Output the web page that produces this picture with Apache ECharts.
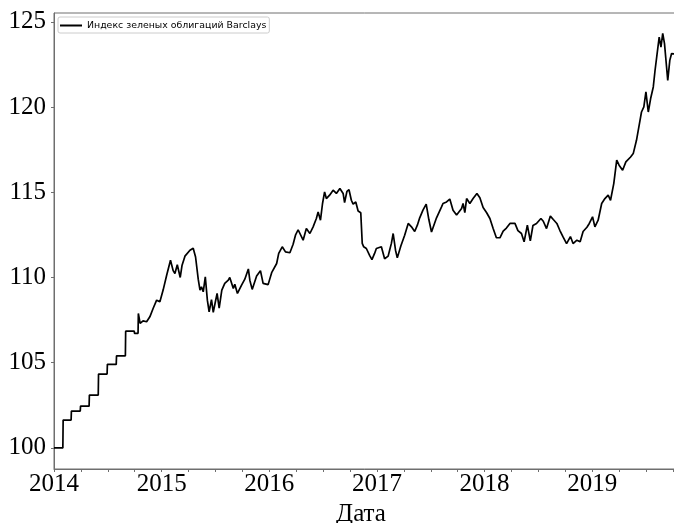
<!DOCTYPE html>
<html>
<head>
<meta charset="utf-8">
<title>Индекс зеленых облигаций Barclays</title>
<script src="https://cdn.jsdelivr.net/npm/echarts@6/dist/echarts.min.js"></script>
<style>
  html, body { margin: 0; padding: 0; background: #fff; overflow: hidden; }
  #chart { width: 674px; height: 523px; }
</style>
</head>
<body>
<div id="chart"></div>
<script>
// Barclays green bond index, [date, value]
const steps2014 = [
  ['2014-01-01',100.00],['2014-01-31',100.00],['2014-02-01',101.63],['2014-02-28',101.63],
  ['2014-03-01',102.16],['2014-03-31',102.16],['2014-04-01',102.45],['2014-04-30',102.45],
  ['2014-05-01',103.10],['2014-05-31',103.10],['2014-06-01',104.33],['2014-06-30',104.33],
  ['2014-07-01',104.90],['2014-07-31',104.90],['2014-08-01',105.40],['2014-08-31',105.40],
  ['2014-09-01',106.85],['2014-09-30',106.85],['2014-10-01',106.72],['2014-10-13',106.72],
  ['2014-10-14',107.89]
];
const daily2014 = [
  ['2014-10-20',107.30],['2014-10-30',107.45],['2014-11-11',107.40],['2014-11-22',107.69],
  ['2014-12-03',108.18],['2014-12-09',108.08],['2014-12-15',108.67],['2014-12-26',108.57]
];
const daily2015 = [
  ['2015-01-06',109.26],['2015-01-18',110.13],['2015-01-31',111.01],['2015-02-09',110.40],
  ['2015-02-15',110.23],['2015-02-23',110.75],['2015-03-05',110.00],['2015-03-11',110.70],
  ['2015-03-21',111.25],['2015-04-07',111.60],['2015-04-18',111.72],['2015-04-26',111.20],
  ['2015-05-05',109.90],['2015-05-11',109.26],['2015-05-16',109.45],['2015-05-22',109.16],
  ['2015-05-29',110.04],['2015-06-05',108.67],['2015-06-11',107.98],['2015-06-19',108.70],
  ['2015-06-25',107.95],['2015-07-01',108.47],['2015-07-08',109.06],['2015-07-15',108.20],
  ['2015-07-24',109.26],['2015-08-03',109.65],['2015-08-15',109.84],['2015-08-20',110.00],
  ['2015-09-01',109.35],['2015-09-06',109.60],['2015-09-15',109.06],['2015-09-29',109.55],
  ['2015-10-10',109.90],['2015-10-22',110.50],['2015-10-27',109.84],['2015-11-04',109.30],
  ['2015-11-19',110.08],['2015-12-02',110.40],['2015-12-11',109.65],['2015-12-28',109.58]
];
const daily2016 = [
  ['2016-01-09',110.28],['2016-01-26',110.82],['2016-02-02',111.41],['2016-02-14',111.80],
  ['2016-02-25',111.50],['2016-03-11',111.45],['2016-03-22',111.95],['2016-03-30',112.48],
  ['2016-04-08',112.80],['2016-04-14',112.77],['2016-04-25',112.19],['2016-05-06',112.87],
  ['2016-05-18',112.58],['2016-05-29',112.97],['2016-06-09',113.46],['2016-06-15',113.85],
  ['2016-06-23',113.36],['2016-06-30',114.34],['2016-07-07',115.02],['2016-07-13',114.63],
  ['2016-07-24',114.83],['2016-08-05',115.12],['2016-08-16',114.93],['2016-08-28',115.22],
  ['2016-09-08',114.93],['2016-09-13',114.40],['2016-09-21',115.05],['2016-09-28',115.15],
  ['2016-10-06',114.53],['2016-10-12',114.30],['2016-10-21',114.43],['2016-10-29',113.90],
  ['2016-11-07',113.80],['2016-11-12',112.00],['2016-11-17',111.80],['2016-11-26',111.70],
  ['2016-12-07',111.30],['2016-12-15',111.05],['2016-12-24',111.41],['2016-12-30',111.70]
];
const daily2017 = [
  ['2017-01-05',111.80],['2017-01-16',111.80],['2017-01-27',111.10],['2017-02-08',111.25],
  ['2017-02-13',111.60],['2017-02-19',112.00],['2017-02-25',112.58],['2017-03-05',111.60],
  ['2017-03-11',111.15],['2017-03-23',111.85],['2017-04-05',112.48],['2017-04-17',113.17],
  ['2017-04-28',112.97],['2017-05-09',112.70],['2017-05-18',113.07],['2017-05-26',113.50],
  ['2017-06-06',113.95],['2017-06-17',114.30],['2017-06-26',113.40],['2017-07-05',112.67],
  ['2017-07-22',113.50],['2017-08-08',114.14],['2017-08-13',114.34],['2017-08-25',114.43],
  ['2017-09-05',114.60],['2017-09-16',113.95],['2017-09-28',113.66],['2017-10-03',113.75],
  ['2017-10-15',114.05],['2017-10-20',114.34],['2017-10-26',113.80],['2017-11-01',114.63],
  ['2017-11-12',114.34],['2017-11-23',114.63],['2017-12-06',114.93],['2017-12-16',114.68],
  ['2017-12-27',114.10]
];
const daily2018 = [
  ['2018-01-08',113.80],['2018-01-19',113.46],['2018-01-30',112.87],['2018-02-10',112.33],
  ['2018-02-22',112.33],['2018-03-05',112.72],['2018-03-16',112.90],['2018-03-28',113.17],
  ['2018-04-14',113.17],['2018-04-24',112.75],['2018-05-06',112.58],['2018-05-15',112.09],
  ['2018-05-26',113.07],['2018-06-05',112.15],['2018-06-14',113.05],['2018-06-26',113.17],
  ['2018-07-11',113.46],['2018-07-19',113.30],['2018-07-30',112.87],['2018-08-12',113.60],
  ['2018-08-22',113.40],['2018-09-03',113.17],['2018-09-13',112.77],['2018-09-24',112.38],
  ['2018-10-06',111.99],['2018-10-19',112.40],['2018-10-28',111.99],['2018-11-03',112.09],
  ['2018-11-10',112.19],['2018-11-21',112.09],['2018-12-01',112.70],['2018-12-14',112.95],
  ['2018-12-22',113.17]
];
const daily2019 = [
  ['2019-01-02',113.56],['2019-01-10',112.97],['2019-01-21',113.36],['2019-02-02',114.34],
  ['2019-02-13',114.63],['2019-02-24',114.83],['2019-03-04',114.53],['2019-03-15',115.51],
  ['2019-03-25',116.88],['2019-04-02',116.59],['2019-04-14',116.29],['2019-04-25',116.78],
  ['2019-05-11',117.07],['2019-05-20',117.27],['2019-05-31',118.05],['2019-06-09',118.93],
  ['2019-06-17',119.71],['2019-06-25',120.01],['2019-07-02',120.89],['2019-07-10',119.71],
  ['2019-07-18',120.50],['2019-07-27',121.18],['2019-08-02',122.16],['2019-08-09',123.14],
  ['2019-08-16',124.11],['2019-08-22',123.52],['2019-08-28',124.33],['2019-09-03',123.72],
  ['2019-09-10',122.35],['2019-09-14',121.57],['2019-09-21',122.74],['2019-09-27',123.14],
  ['2019-10-03',123.04],['2019-10-10',123.10]
];

// Axis ticks and view limits
const yearTicks = [2014, 2015, 2016, 2017, 2018, 2019];
const valueTicks = [100, 105, 110, 115, 120, 125];
const viewStart = '2014-01-01';
const viewEnd = '2019-10-12';
const valueMin = 98.76;
const valueMax = 125.52;

const seriesName = 'Индекс зеленых облигаций Barclays';
const axisTitle = 'Дата';

// date string -> fractional year, so year ticks sit on 1 January
function toYear(s) {
  const [y, m, d] = s.split('-').map(Number);
  const t = Date.UTC(y, m - 1, d);
  const a = Date.UTC(y, 0, 1);
  const b = Date.UTC(y + 1, 0, 1);
  return y + (t - a) / (b - a);
}

const points = [].concat(steps2014, daily2014, daily2015, daily2016,
                         daily2017, daily2018, daily2019)
  .map(([d, v]) => [toYear(d), v]);

const serif = '"Liberation Serif", "DejaVu Serif", serif';
const spine = '#6e6e6e';

const chart = echarts.init(document.getElementById('chart'), null, { renderer: 'canvas' });
chart.setOption({
  animation: false,
  backgroundColor: '#ffffff',
  grid: {
    left: 54, top: 13, width: 622, bottom: 54,
    outerBoundsMode: 'none',
    containLabel: false,
    show: true, borderColor: spine, borderWidth: 1, backgroundColor: 'transparent'
  },
  legend: {
    left: 58, top: 17,
    padding: [3, 3, 2, 2],
    backgroundColor: '#ffffff',
    borderColor: '#cccccc', borderWidth: 1, borderRadius: 2,
    itemWidth: 22, itemHeight: 2, icon: 'rect',
    textStyle: { fontFamily: '"DejaVu Sans", sans-serif', fontSize: 9.4, color: '#000', lineHeight: 11 },
    data: [{ name: seriesName, itemStyle: { color: '#000' } }]
  },
  xAxis: {
    type: 'value',
    min: toYear(viewStart),
    max: toYear(viewEnd),
    interval: 0.25,
    name: axisTitle,
    nameLocation: 'middle',
    nameGap: 29,
    nameTextStyle: { fontFamily: serif, fontSize: 25, color: '#000', padding: [0, 8, 0, 0] },
    axisLine: { show: true, lineStyle: { color: spine, width: 1 } },
    axisTick: { show: true, length: 3, lineStyle: { color: spine, width: 1 } },
    axisLabel: {
      margin: 3,
      fontFamily: serif, fontSize: 25, color: '#000',
      formatter: v => (yearTicks.includes(Math.round(v * 1000) / 1000) ? String(Math.round(v)) : '')
    },
    splitLine: { show: false }
  },
  yAxis: {
    type: 'value',
    min: valueMin,
    max: valueMax,
    axisLine: { show: true, lineStyle: { color: spine, width: 1 } },
    axisTick: { show: true, length: 3, customValues: valueTicks, lineStyle: { color: spine, width: 1 } },
    axisLabel: {
      margin: 8,
      fontFamily: serif, fontSize: 25, color: '#000',
      customValues: valueTicks
    },
    splitLine: { show: false }
  },
  series: [{
    name: seriesName,
    type: 'line',
    data: points,
    symbol: 'none',
    showSymbol: false,
    lineStyle: { color: '#000', width: 1.7 },
    itemStyle: { color: '#000' },
    clip: true
  }]
});
</script>
</body>
</html>
